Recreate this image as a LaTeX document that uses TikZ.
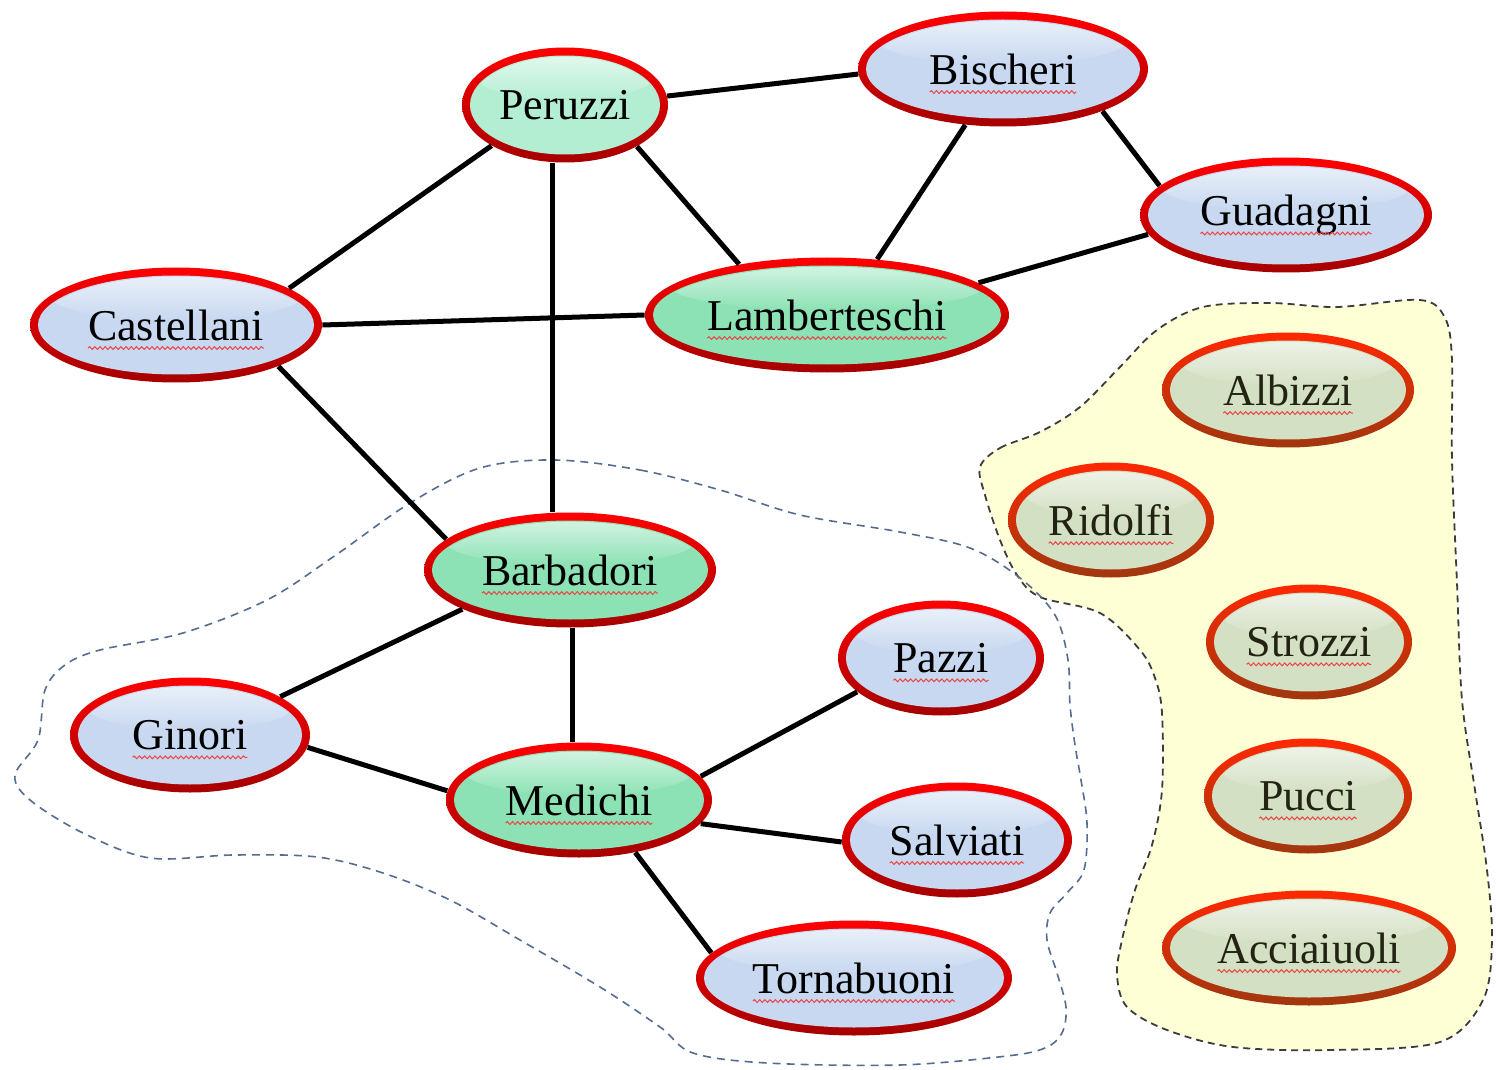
\documentclass[tikz,border=0pt]{standalone}
\usepackage{fontspec}
\setmainfont{Liberation Serif}
\usetikzlibrary{calc,shapes.geometric,decorations.pathmorphing}

\definecolor{bodyblue}{RGB}{200,216,240}
\definecolor{bodygreen}{RGB}{140,226,180}
\definecolor{bodymint}{RGB}{180,238,210}
\definecolor{bodybeige}{RGB}{212,224,196}
\definecolor{ringred}{RGB}{255,0,0}
\definecolor{ringdark}{RGB}{165,0,0}
\definecolor{ringorange}{RGB}{255,40,0}
\definecolor{ringbrown}{RGB}{160,55,15}
\definecolor{groupfill}{RGB}{255,255,214}
\definecolor{groupline}{RGB}{60,60,60}
\definecolor{clusterline}{RGB}{85,108,145}
\definecolor{squig}{RGB}{235,70,70}
\definecolor{inkdark}{RGB}{35,35,20}

% a family name whose width is kept for its wavy underline
\newlength\wavewd
\newcommand\spell[1]{\setbox0\hbox{#1}\global\wavewd=\wd0\relax\box0}

\tikzset{
  fam/.style n args={3}{
    ellipse, inner sep=0pt, minimum height=57.5pt,
    top color=#2, bottom color=#3,
    font=\fontsize{22}{26}\selectfont,
    path picture={
      \path let \p1=($(path picture bounding box.north east)-(path picture bounding box.center)$) in
        \pgfextra{\xdef\famrx{\x1}\xdef\famry{\y1}};
      \coordinate (famc) at (path picture bounding box.center);
      % body inside the ring
      \fill[#1] (famc) ellipse [x radius=\famrx-4pt, y radius=\famry-4pt];
      % glossy highlight in the upper half
      \begin{scope}
        \clip (famc) ellipse [x radius=\famrx-4.6pt, y radius=\famry-4.6pt];
        \shade[top color=#1!35!white, bottom color=#1]
          ([yshift=0.5*\famry]famc) ellipse [x radius=0.86*\famrx, y radius=0.42*\famry];
      \end{scope}
    }
  },
  famblue/.style={fam={bodyblue}{ringred}{ringdark}, text=black},
  famgreen/.style={fam={bodygreen}{ringred}{ringdark}, text=black},
  fammint/.style={fam={bodymint}{ringred}{ringdark}, text=black},
  fambeige/.style={fam={bodybeige}{ringorange}{ringbrown}, text=inkdark},
  squigline/.style={draw=squig, line width=0.5pt, decorate,
    decoration={snake, amplitude=0.7pt, segment length=2.6pt}},
  spelled/.style={append after command={\pgfextra{\let\sqnode\tikzlastnode}
    ([xshift=-0.5\wavewd, yshift=-4pt]\sqnode.base) edge[squigline]
    ([xshift=0.5\wavewd, yshift=-4pt]\sqnode.base)}},
  link/.style={line width=2.5pt, black},
  cluster/.style={draw=clusterline, line width=0.8pt, dash pattern=on 4pt off 3pt},
  group/.style={draw=groupline, fill=groupfill, line width=0.9pt, dash pattern=on 3.5pt off 2.5pt},
}

\begin{document}
\begin{tikzpicture}[x=0.5pt, y=-0.5pt]
\useasboundingbox (0,0) rectangle (1496,1070);
\fill[white] (0,0) rectangle (1496,1070);

% isolated families
\draw[group] plot[smooth cycle, tension=0.55] coordinates {
  (980,467) (1000,448) (1040,432) (1080,407) (1120,367) (1157,330) (1203,307)
  (1270,303) (1337,307) (1420,300) (1445,318) (1452,360) (1452,460) (1457,583)
  (1462,700) (1475,790) (1487,870) (1492,940) (1483,1000) (1440,1042) (1333,1050)
  (1233,1047) (1167,1030) (1127,1007) (1117,975) (1122,940) (1135,890) (1152,845)
  (1162,790) (1162,713) (1155,678) (1140,650) (1100,613) (1040,597) (1017,575)
  (1000,540) (985,495)};

% Medici neighbourhood
\draw[cluster] plot[smooth cycle, tension=0.55] coordinates {
  (555,460) (640,470) (720,490) (800,515) (900,532) (970,548) (1020,578)
  (1055,615) (1068,660) (1070,705) (1075,745) (1081,780) (1087,823) (1084,870)
  (1067,893) (1050,913) (1047,940) (1057,973) (1066,1007) (1062,1033) (1045,1048)
  (1007,1056) (900,1065) (767,1063) (693,1053) (660,1027) (600,987) (520,940)
  (450,900) (383,873) (317,857) (233,855) (150,858) (83,833) (30,800) (15,775)
  (38,740) (45,690) (65,665) (100,650) (183,633) (267,600) (333,557) (410,503)
  (480,468)};

% families
\node[fammint,  minimum width=103pt] (Peruzzi)      at (565,105)  {Peruzzi};
\node[famblue,  minimum width=145pt, spelled] (Bischeri)     at (1003,69)  {\spell{Bischeri}};
\node[famblue,  minimum width=146pt, spelled] (Guadagni)     at (1286,215) {\spell{Guadagni}};
\node[famblue,  minimum width=146pt, spelled] (Castellani)   at (176,325)  {\spell{Castellani}};
\node[famgreen, minimum width=182pt, spelled] (Lamberteschi) at (827,315)  {\spell{Lamberteschi}};
\node[fambeige, minimum width=126pt, spelled] (Albizzi)      at (1288,390) {\spell{Albizzi}};
\node[fambeige, minimum width=103pt, spelled] (Ridolfi)      at (1111,520) {\spell{Ridolfi}};
\node[famgreen, minimum width=146pt, spelled] (Barbadori)    at (570,570)  {\spell{Barbadori}};
\node[famblue,  minimum width=103pt, spelled] (Pazzi)        at (941,658)  {\spell{Pazzi}};
\node[fambeige, minimum width=103pt, spelled] (Strozzi)      at (1309,642) {\spell{Strozzi}};
\node[famblue,  minimum width=120pt, spelled] (Ginori)       at (190,735)  {\spell{Ginori}};
\node[famgreen, minimum width=133pt, spelled] (Medichi)      at (579,800)  {\spell{Medichi}};
\node[famblue,  minimum width=115pt, spelled] (Salviati)     at (957,840)  {\spell{Salviati}};
\node[fambeige, minimum width=104pt, spelled] (Pucci)        at (1308,796) {\spell{Pucci}};
\node[famblue,  minimum width=158pt, spelled] (Tornabuoni)   at (854,978)  {\spell{Tornabuoni}};
\node[fambeige, minimum width=147pt, spelled] (Acciaiuoli)   at (1309,948) {\spell{Acciaiuoli}};

% ties between families
\coordinate (pb) at ([xshift=-6.5pt]Peruzzi.south);
\coordinate (bm) at ([xshift=1pt]Barbadori.south);
\draw[link] (Peruzzi.5) -- (Bischeri.182);
\draw[link] (Peruzzi.209) -- (Castellani.18);
\draw[link] (Peruzzi.330) -- (Lamberteschi.150);
\draw[link] (pb) -- (pb |- Barbadori.north);
\draw[link] (Bischeri.236) -- (Lamberteschi.48);
\draw[link] (Bischeri.337) -- (Guadagni.167);
\draw[link] (Guadagni.188) -- (Lamberteschi.12);
\draw[link] (Castellani.0) -- (Lamberteschi.180);
\draw[link] (Castellani.338) -- (Barbadori.166);
\draw[link] (Barbadori.200) -- (Ginori.23);
\draw[link] (bm) -- (bm |- Medichi.north);
\draw[link] (Ginori.354) -- (Medichi.176);
\draw[link] (Medichi.11) -- (Pazzi.202);
\draw[link] (Medichi.349) -- (Salviati.181);
\draw[link] (Medichi.317) -- (Tornabuoni.170);
\end{tikzpicture}
\end{document}
